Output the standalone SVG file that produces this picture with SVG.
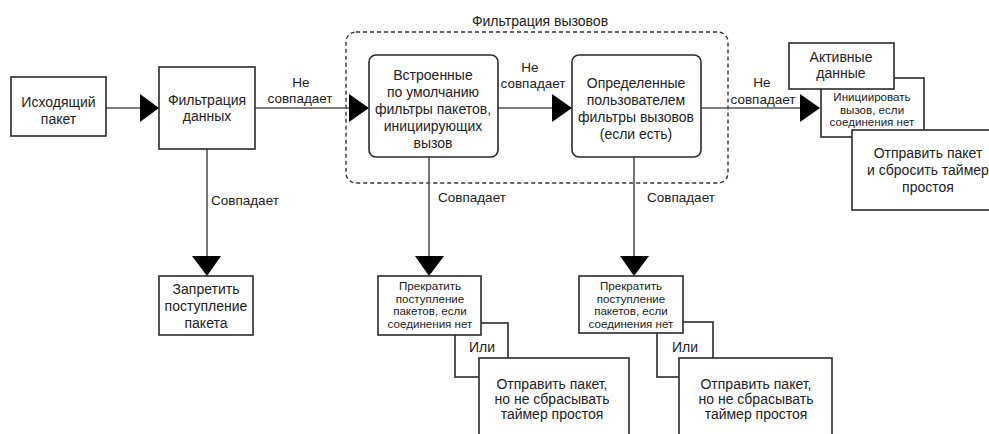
<svg xmlns="http://www.w3.org/2000/svg" width="989" height="434" viewBox="0 0 989 434">
<style>
.box{fill:#fff;stroke:#2a2a2a;stroke-width:1.6}
.line{fill:none;stroke:#555;stroke-width:1.6}
.dash{fill:none;stroke:#333;stroke-width:1.4;stroke-dasharray:4 3}
.ah{fill:#000}
text{font-family:"Liberation Sans",Arial,sans-serif;font-size:14px;fill:#222;text-anchor:middle}
.sm{font-size:11.6px}
.lb{font-size:13.5px}
.st{text-anchor:start}
</style>
<rect width="989" height="434" fill="#fff"/>
<g id="call-filter-group">
<rect class="dash" x="346" y="32" width="382" height="151" rx="10"/>
<text x="540" y="26">Фильтрация вызовов</text>
</g>
<g id="connectors">
<line class="line" x1="106" y1="108" x2="142" y2="108"/>
<polygon class="ah" points="140,94 159,108 140,122"/>
<line class="line" x1="255" y1="108" x2="350" y2="108"/>
<polygon class="ah" points="349,94 369,108 349,122"/>
<text class="lb" x="301" y="87">Не</text>
<text class="lb" x="300" y="103">совпадает</text>
<line class="line" x1="498" y1="108" x2="553" y2="108"/>
<polygon class="ah" points="552,94 572,108 552,122"/>
<text class="lb" x="530" y="72">Не</text>
<text class="lb" x="533" y="88">совпадает</text>
<line class="line" x1="701" y1="108" x2="802" y2="108"/>
<polygon class="ah" points="800,94 820,108 800,122"/>
<text class="lb" x="762" y="87">Не</text>
<text class="lb" x="763" y="104">совпадает</text>
<line class="line" x1="207" y1="149" x2="207" y2="258"/>
<polygon class="ah" points="192,256 221,256 207,276"/>
<text class="lb st" x="211" y="205">Совпадает</text>
<line class="line" x1="429" y1="157" x2="429" y2="258"/>
<polygon class="ah" points="415,256 444,256 429,276"/>
<text class="lb st" x="438" y="202">Совпадает</text>
<line class="line" x1="634" y1="157" x2="634" y2="258"/>
<polygon class="ah" points="620,256 649,256 634,276"/>
<text class="lb st" x="647" y="202">Совпадает</text>
</g>
<g id="outgoing-packet">
<rect class="box" x="11" y="77" width="95" height="59"/>
<text x="58.5" y="107">Исходящий</text>
<text x="58.5" y="124">пакет</text>
</g>
<g id="data-filter">
<rect class="box" x="159" y="67" width="96" height="82"/>
<text x="207" y="105">Фильтрация</text>
<text x="207" y="121">данных</text>
</g>
<g id="deny-packet">
<rect class="box" x="159" y="276" width="94" height="59"/>
<text x="206" y="294">Запретить</text>
<text x="206" y="311">поступление</text>
<text x="206" y="328">пакета</text>
</g>
<g id="builtin-filters">
<rect class="box" x="369" y="55" width="129" height="102" rx="7"/>
<text x="433" y="80">Встроенные</text>
<text x="433" y="97">по умолчанию</text>
<text x="433" y="114">фильтры пакетов,</text>
<text x="433" y="131">инициирующих</text>
<text x="433" y="148">вызов</text>
</g>
<g id="user-filters">
<rect class="box" x="572" y="55" width="129" height="102" rx="7"/>
<text x="636" y="88">Определенные</text>
<text x="636" y="105">пользователем</text>
<text x="636" y="122">фильтры вызовов</text>
<text x="636" y="139">(если есть)</text>
</g>
<g id="initiate-call">
<rect class="box" x="821" y="78" width="103" height="59"/>
<text class="sm" x="872" y="101">Инициировать</text>
<text class="sm" x="872" y="114">вызов, если</text>
<text class="sm" x="872" y="126">соединения нет</text>
</g>
<g id="active-data">
<rect class="box" x="789" y="43" width="105" height="46"/>
<text x="841" y="62">Активные</text>
<text x="841" y="78">данные</text>
</g>
<g id="send-reset">
<rect class="box" x="852" y="130" width="152" height="80"/>
<text x="928" y="158">Отправить пакет</text>
<text x="928" y="175">и сбросить таймер</text>
<text x="928" y="192">простоя</text>
</g>
<g id="or-1">
<rect class="box" x="455" y="323" width="53" height="54"/>
<text x="482" y="352">Или</text>
</g>
<g id="stop-1">
<rect class="box" x="378" y="276" width="103" height="59"/>
<text class="sm" x="430" y="290">Прекратить</text>
<text class="sm" x="430" y="303">поступление</text>
<text class="sm" x="430" y="315">пакетов, если</text>
<text class="sm" x="430" y="328">соединения нет</text>
</g>
<g id="send-noreset-1">
<rect class="box" x="479" y="358" width="150" height="90"/>
<text x="552" y="389">Отправить пакет,</text>
<text x="552" y="404">но не сбрасывать</text>
<text x="552" y="419">таймер простоя</text>
</g>
<g id="or-2">
<rect class="box" x="657" y="322" width="56" height="55"/>
<text x="685" y="352">Или</text>
</g>
<g id="stop-2">
<rect class="box" x="579" y="276" width="104" height="57"/>
<text class="sm" x="631" y="290">Прекратить</text>
<text class="sm" x="631" y="303">поступление</text>
<text class="sm" x="631" y="315">пакетов, если</text>
<text class="sm" x="631" y="328">соединения нет</text>
</g>
<g id="send-noreset-2">
<rect class="box" x="679" y="358" width="153" height="90"/>
<text x="756" y="389">Отправить пакет,</text>
<text x="756" y="404">но не сбрасывать</text>
<text x="756" y="419">таймер простоя</text>
</g>
</svg>
